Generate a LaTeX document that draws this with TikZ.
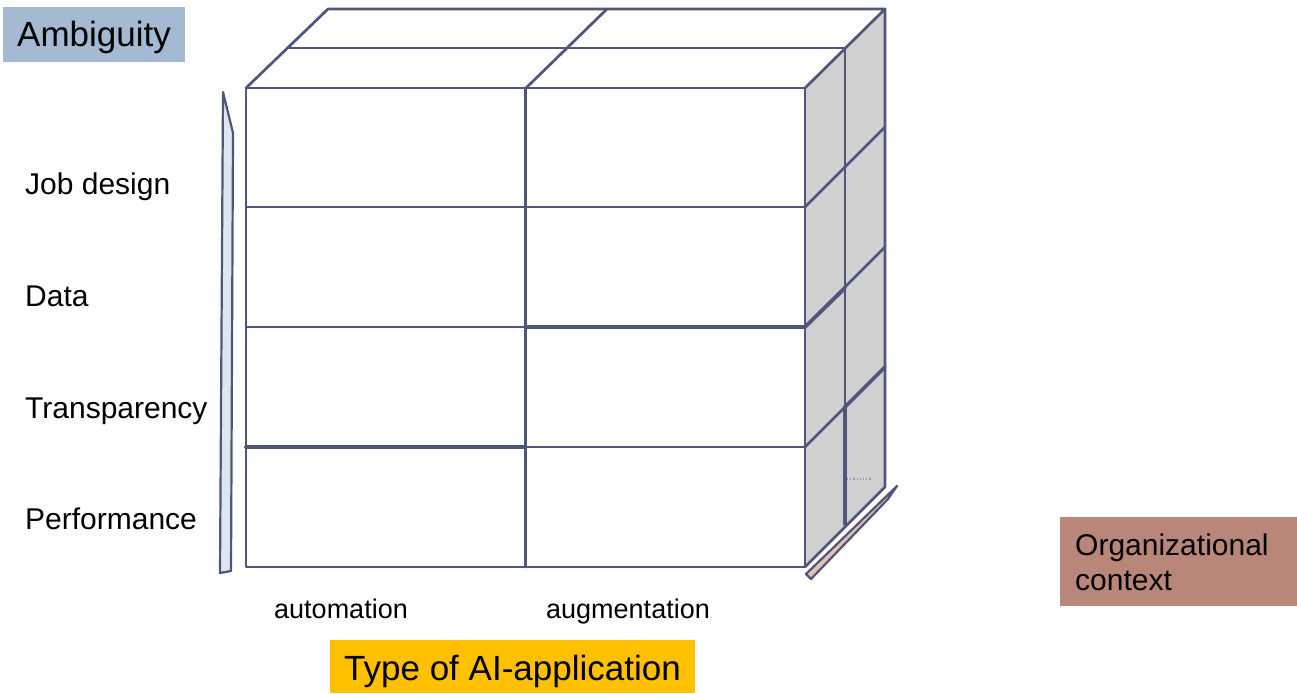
\documentclass[tikz,border=0pt]{standalone}
\usepackage{fontspec}
\setmainfont{Liberation Sans}
\definecolor{edge}{HTML}{50557A}
\definecolor{sidegray}{HTML}{D0D0D0}
\definecolor{ambblue}{HTML}{A3BAD2}
\definecolor{aiyellow}{HTML}{FFC000}
\definecolor{orgbrown}{HTML}{B9877A}
\definecolor{barblue}{HTML}{DDE7EF}
\definecolor{bartan}{HTML}{E6C2B4}
\definecolor{dotblue}{HTML}{8A90B8}
\tikzset{
  cubeline/.style={draw=edge, line width=2.7, line join=round, line cap=round},
  heavyline/.style={draw=edge, line width=3.8, line cap=round},
  rowlabel/.style={anchor=base west, font=\fontsize{30}{36}\selectfont, inner sep=0},
  collabel/.style={anchor=base, font=\fontsize{27}{32}\selectfont, inner sep=0},
  tagbox/.style={font=\fontsize{35}{42}\selectfont, inner sep=0}
}
\begin{document}
\begin{tikzpicture}[x=1pt,y=-1pt]
\useasboundingbox (0,0) rectangle (1297,693);
% label boxes
\node[tagbox, fill=ambblue, minimum width=182, minimum height=55, text height=23, text depth=0] (amb) at (94,34.5) {Ambiguity};
\node[tagbox, fill=aiyellow, minimum width=365, minimum height=53, text height=27, text depth=0] (ai) at (512.5,666.5) {Type of AI-application};
\node[fill=orgbrown, minimum width=237, minimum height=89, inner sep=0] (org) at (1178.5,561.5) {};
\node[anchor=west, align=left, font=\fontsize{30}{35}\selectfont, inner sep=0] (orgtxt) at (1075,562) {Organizational\\context};
% left bar
\filldraw[fill=barblue, draw=edge, line width=2.2, line join=round] (223,92) -- (233,133) -- (231,571) -- (220,573) -- cycle;
% bottom-right bar
\filldraw[fill=bartan, draw=edge, line width=2.2, line join=round] (806,574) -- (897,486) -- (888,499) -- (811,579) -- cycle;
% cube faces
\fill[sidegray] (805,88) -- (885,9) -- (885,487) -- (805,567) -- cycle;
\fill[white] (246,88) -- (328,9) -- (885,9) -- (805,88) -- cycle;
\fill[white] (246,88) rectangle (805,567);
% dotted mark
\draw[dotblue, line width=1.2, dotted] (847,479) -- (871,479);
% front face
\draw[cubeline] (246,88) rectangle (805,567);
\draw[cubeline] (525.5,88) -- (525.5,567);
\draw[cubeline] (246,207) -- (805,207);
\draw[cubeline] (246,327) -- (805,327);
\draw[cubeline] (246,447) -- (805,447);
% top face
\draw[cubeline] (246,88) -- (328,9) -- (885,9) -- (805,88);
\draw[cubeline] (287,48) -- (845,48);
\draw[cubeline] (526,88) -- (607,9);
% side face
\draw[cubeline] (845,48) -- (845,524);
\draw[cubeline] (885,9) -- (885,487) -- (805,567);
\draw[cubeline] (805,207) -- (885,127);
\draw[cubeline] (805,327) -- (885,247);
\draw[cubeline] (805,447) -- (885,367);
% heavier strokes
\draw[heavyline] (246,447) -- (525,447);
\draw[heavyline] (525,327) -- (805,327) -- (845,288);
\draw[heavyline] (845,407) -- (885,367);
\draw[heavyline] (845,407) -- (845,524);
% row labels
\node[rowlabel] (job) at (25,194) {Job design};
\node[rowlabel] (data) at (25,306) {Data};
\node[rowlabel] (trans) at (25,418) {Transparency};
\node[rowlabel] (perf) at (25,529) {Performance};
% column labels
\node[collabel] (auto) at (341,618) {automation};
\node[collabel] (aug) at (628,618) {augmentation};
\end{tikzpicture}
\end{document}
